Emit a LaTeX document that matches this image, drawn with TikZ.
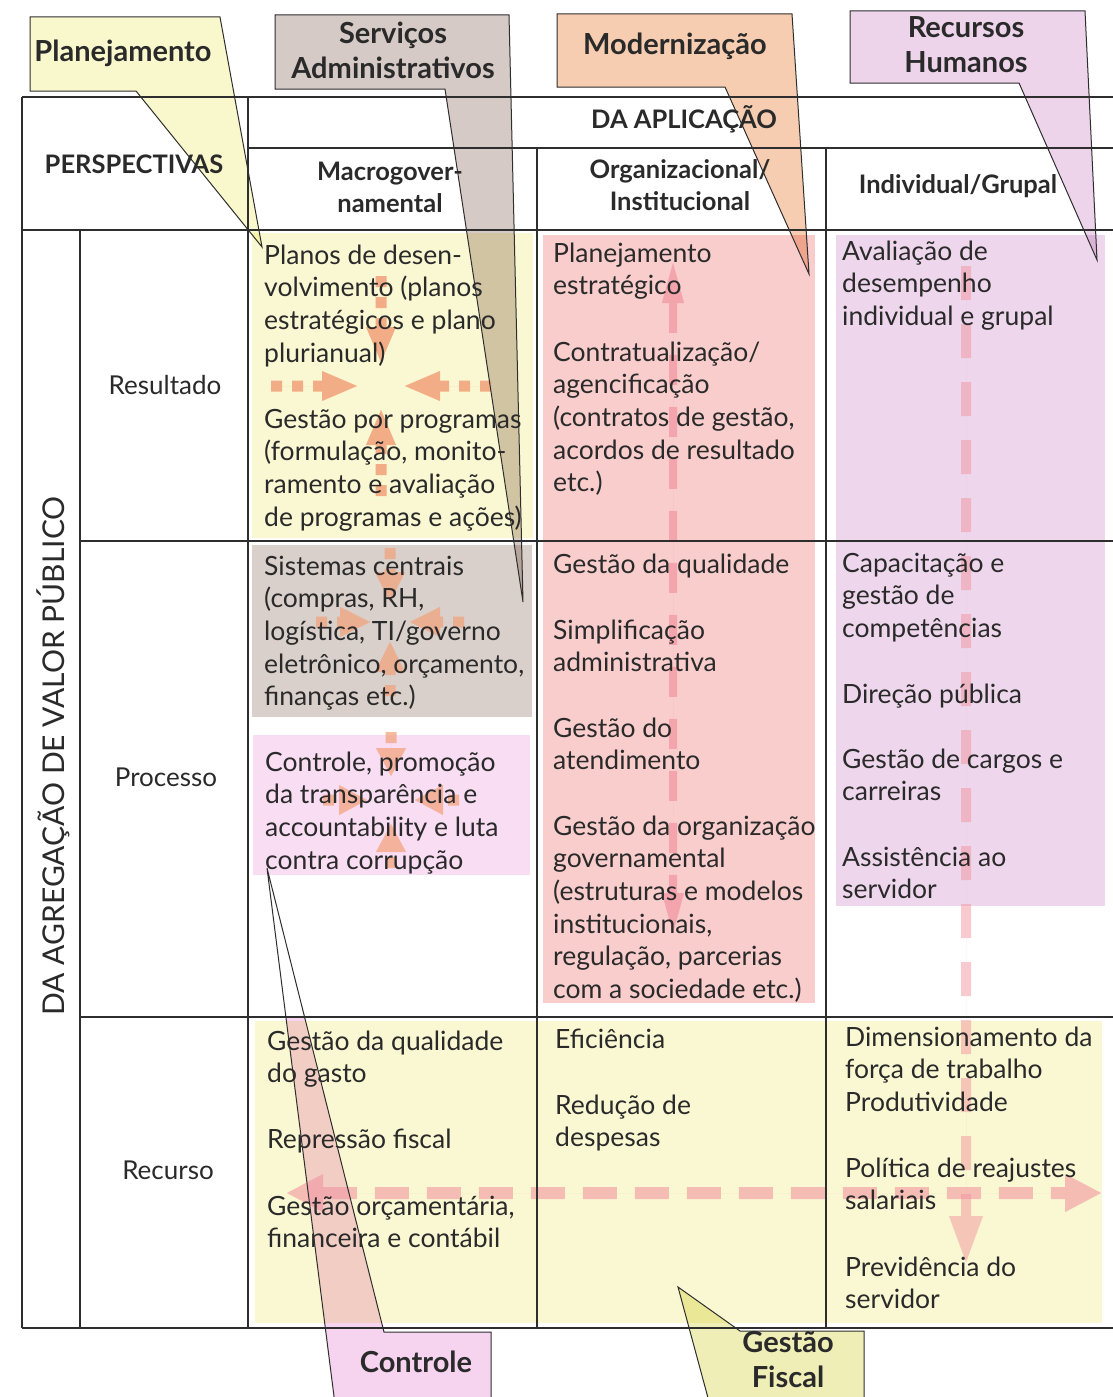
\documentclass[tikz,border=0pt]{standalone}
\usepackage{fontspec}
\setmainfont{Lato}
\usetikzlibrary{arrows.meta}
\definecolor{linegray}{HTML}{2E2E2E}
\definecolor{textgray}{HTML}{2A2A2A}
\definecolor{cellyellow}{HTML}{FAF8D2}
\definecolor{orgpink}{HTML}{F8CDCC}
\definecolor{indlilac}{HTML}{EED7EC}
\definecolor{systaupe}{HTML}{DAD0CB}
\definecolor{ctrlpink}{HTML}{F9DDF3}
\definecolor{planfill}{HTML}{F9F8CD}
\definecolor{servfill}{HTML}{D6CAC6}
\definecolor{modfill}{HTML}{F6CDB1}
\definecolor{rhfill}{HTML}{EDD4EB}
\definecolor{ctrlfill}{HTML}{F6D3EF}
\definecolor{fiscfill}{HTML}{EFEEB7}
\definecolor{arrpink}{HTML}{F294A0}
\definecolor{arrorange}{HTML}{F2A079}
\begin{document}
\begin{tikzpicture}[x=1pt,y=-1pt,
  grid/.style={draw=linegray, line width=1.2pt},
  body/.style={anchor=north west, inner sep=0pt, align=left,
    font=\fontsize{26.5}{32.7}\selectfont, text=textgray},
  hdr/.style={anchor=north, inner sep=0pt, align=center,
    font=\bfseries\fontsize{25.5}{32}\selectfont, text=textgray},
  hdrone/.style={inner sep=0pt, text height=13pt, text depth=0pt,
    font=\bfseries\fontsize{25.5}{32}\selectfont, text=textgray},
  rowlbl/.style={inner sep=0pt, text height=13pt, text depth=0pt,
    font=\fontsize{26}{30}\selectfont, text=textgray},
  ctext/.style={anchor=north, inner sep=0pt, align=center,
    font=\bfseries\fontsize{29}{35}\selectfont, text=textgray},
  coutline/.style={draw=linegray, line width=1pt, line join=miter},
  pinkarr/.style={draw=arrpink, fill=arrpink, line width=8pt,
    dash pattern=on 30pt off 22pt},
  orangearr/.style={draw=arrorange, fill=arrorange, line width=11pt,
    dash pattern=on 11pt off 10pt},
  fadegroup/.style={transparency group, opacity=#1}
]
\useasboundingbox (0,0) rectangle (1113,1397);
\clip (0,0) rectangle (1113,1397);
\fill[white] (0,0) rectangle (1113,1397);

% ---- cell backgrounds ----
\fill[cellyellow] (252,233) rectangle (533,538);
\fill[systaupe] (252,545) rectangle (532,717);
\fill[ctrlpink] (253,735) rectangle (530,875);
\fill[orgpink] (543,235) rectangle (815,1003);
\fill[indlilac] (836,235) rectangle (1105,906);
\fill[cellyellow] (255,1021) rectangle (1102,1323);

% ---- callout fills (behind text) ----
\begin{scope}[blend mode=multiply]
\fill[planfill] (30,17) -- (220,17) -- (262,247) -- (136,91) -- (30,91) -- cycle;
\fill[servfill] (275,15) -- (509,15) -- (523,602) -- (445,89) -- (275,89) -- cycle;
\fill[modfill] (557,14) -- (792,14) -- (809,274) -- (725,87) -- (557,87) -- cycle;
\fill[rhfill] (850,11) -- (1085,11) -- (1097,260) -- (1019,83) -- (850,83) -- cycle;
\begin{scope}
\clip (0,1017) rectangle (1113,1420);
\fill[ctrlfill] (267,868) -- (384,1332) -- (491,1332) -- (491,1420) -- (337,1420) -- cycle;
\end{scope}
\fill[fiscfill] (678,1287) -- (740,1331) -- (864,1331) -- (864,1420) -- (714,1420) -- cycle;
\end{scope}

% ---- dashed arrows ----
\begin{scope}[fadegroup=.7]
\draw[pinkarr,
  {Triangle[length=40pt 0 1, width=22pt 0 1, line width=0.1pt]}-{Triangle[length=40pt 0 1, width=22pt 0 1, line width=0.1pt]}]
  (673,263) -- (673,933);
\end{scope}
\begin{scope}[fadegroup=.5]
\draw[pinkarr, line width=10pt, dash pattern=on 34pt off 24pt,
  -{Triangle[length=46pt 0 1, width=34pt 0 1, line width=0.1pt]}] (966,266) -- (966,1262);
\end{scope}
\begin{scope}[fadegroup=.6]
\draw[pinkarr, line width=12pt, dash pattern=on 34pt off 18pt,
  {Triangle[length=36pt 0 1, width=38pt 0 1, line width=0.1pt]}-{Triangle[length=36pt 0 1, width=38pt 0 1, line width=0.1pt]}]
  (287,1193) -- (1101,1193);
\end{scope}

% converging arrows in the macro-governmental column
\foreach \a in {0,90,180,270}{
  \begin{scope}[fadegroup=.85]
  \draw[orangearr, shift={(381,386)}, rotate=\a,
    -{Triangle[length=35pt 0 1, width=30pt 0 1, line width=0.1pt]}] (110,0) -- (24,0);
  \end{scope}
  \begin{scope}[fadegroup=.7]
  \draw[orangearr, shift={(390,622)}, rotate=\a,
    -{Triangle[length=30pt 0 1, width=30pt 0 1, line width=0.1pt]}] (74,0) -- (20,0);
  \end{scope}
  \begin{scope}[fadegroup=.7]
  \draw[orangearr, shift={(391,800)}, rotate=\a,
    -{Triangle[length=28pt 0 1, width=30pt 0 1, line width=0.1pt]}] (68,0) -- (24,0);
  \end{scope}
}

% ---- table rules ----
\draw[grid] (22,97) -- (1113,97);
\draw[grid] (248,148) -- (1113,148);
\draw[grid] (22,230) -- (1113,230);
\draw[grid] (80,541) -- (1113,541);
\draw[grid] (80,1017) -- (1113,1017);
\draw[grid] (22,1328) -- (1113,1328);
\draw[grid] (22,97) -- (22,1328);
\draw[grid] (80,230) -- (80,1328);
\draw[grid] (248,97) -- (248,1328);
\draw[grid] (537,148) -- (537,1328);
\draw[grid] (826,148) -- (826,1328);

% ---- headers ----
\node[hdrone] (persp) at (134,167) {PERSPECTIVAS};
\node[hdrone] (aplic) at (684,122) {DA APLICAÇÃO};
\node[hdr] (macro) at (390,158) {\strut Macrogover-\\namental};
\node[hdr] (organ) at (680,156) {\strut Organizacional/\\Institucional};
\node[hdrone] (indiv) at (958,187) {Individual/Grupal};
\node[rowlbl, rotate=90, font=\fontsize{30}{30}\selectfont] (agreg) at (58,756)
  {DA AGREGAÇÃO DE VALOR PÚBLICO};
\node[rowlbl] (resul) at (165,388) {Resultado};
\node[rowlbl] (proc) at (166,780) {Processo};
\node[rowlbl] (recur) at (168,1173) {Recurso};

% ---- cell contents ----
\node[body] (m1a) at (264,241) {\strut Planos de desen-\\volvimento (planos\\estratégicos e plano\\plurianual)};
\node[body] (m1b) at (264,405) {\strut Gestão por programas\\(formulação, monito-\\ramento e avaliação\\de programas e ações)};
\node[body] (m2a) at (264,552) {\strut Sistemas centrais\\(compras, RH,\\logística, TI/governo\\eletrônico, orçamento,\\finanças etc.)};
\node[body] (m2b) at (265,748) {\strut Controle, promoção\\da transparência e\\accountability e luta\\contra corrupção};
\node[body] (m3a) at (267,1027) {\strut Gestão da qualidade\\do gasto};
\node[body] (m3b) at (267,1125) {\strut Repressão fiscal};
\node[body] (m3c) at (267,1192) {\strut Gestão orçamentária,\\financeira e contábil};

\node[body] (o1a) at (553,239) {\strut Planejamento\\estratégico};
\node[body] (o1b) at (553,338) {\strut Contratualização/\\agencificação\\(contratos de gestão,\\acordos de resultado\\etc.)};
\node[body] (o2a) at (553,550) {\strut Gestão da qualidade};
\node[body] (o2b) at (553,616) {\strut Simplificação\\administrativa};
\node[body] (o2c) at (553,714) {\strut Gestão do\\atendimento};
\node[body] (o2d) at (553,812) {\strut Gestão da organização\\governamental\\(estruturas e modelos\\institucionais,\\regulação, parcerias\\com a sociedade etc.)};
\node[body] (o3a) at (555,1025) {\strut Eficiência};
\node[body] (o3b) at (555,1091) {\strut Redução de\\despesas};

\node[body] (i1a) at (842,237) {\strut Avaliação de\\desempenho\\individual e grupal};
\node[body] (i2a) at (842,549) {\strut Capacitação e\\gestão de\\competências};
\node[body] (i2b) at (842,680) {\strut Direção pública};
\node[body] (i2c) at (842,745) {\strut Gestão de cargos e\\carreiras};
\node[body] (i2d) at (842,843) {\strut Assistência ao\\servidor};
\node[body] (i3a) at (845,1023) {\strut Dimensionamento da\\força de trabalho\\Produtividade};
\node[body] (i3b) at (845,1154) {\strut Política de reajustes\\salariais};
\node[body] (i3c) at (845,1253) {\strut Previdência do\\servidor};

% ---- callout outlines and labels ----
\draw[coutline] (30,17) -- (220,17) -- (262,247) -- (136,91) -- (30,91) -- cycle;
\draw[coutline] (275,15) -- (509,15) -- (523,602) -- (445,89) -- (275,89) -- cycle;
\draw[coutline] (557,14) -- (792,14) -- (809,274) -- (725,87) -- (557,87) -- cycle;
\draw[coutline] (850,11) -- (1085,11) -- (1097,260) -- (1019,83) -- (850,83) -- cycle;
\draw[coutline] (267,868) -- (384,1332) -- (491,1332) -- (491,1420) -- (337,1420) -- cycle;
\draw[coutline] (678,1287) -- (740,1331) -- (864,1331) -- (864,1420) -- (714,1420) -- cycle;

\node[ctext] (plan) at (123,37) {\strut Planejamento};
\node[ctext] (serv) at (393,19) {\strut Serviços\\Administrativos};
\node[ctext] (mod) at (675,30) {\strut Modernização};
\node[ctext] (rh) at (966,13) {\strut Recursos\\Humanos};
\node[ctext] (ctrl) at (416,1348) {\strut Controle};
\node[ctext] (fisc) at (788,1328) {\strut Gestão\\Fiscal};
\end{tikzpicture}
\end{document}
